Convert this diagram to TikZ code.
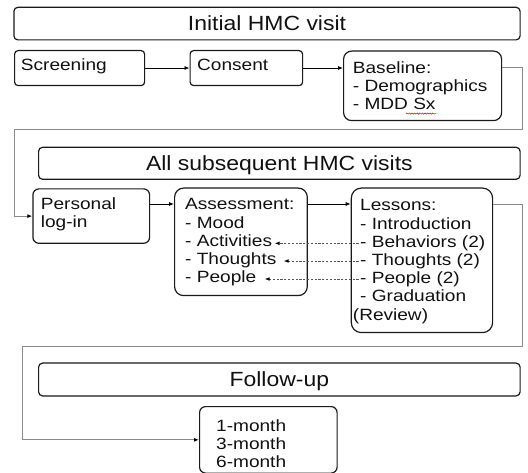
\documentclass[tikz,border=0pt]{standalone}
\usepackage{fontspec}
\newfontfamily\bodyfont{Liberation Sans}[FakeStretch=1.17]
\newfontfamily\headfont{Liberation Sans}[FakeStretch=1.12]
\usetikzlibrary{arrows.meta,calc,decorations.pathmorphing}
\definecolor{boxline}{HTML}{1A1A1A}
\definecolor{loopline}{HTML}{8A8A8A}
\definecolor{dashline}{HTML}{555555}
\definecolor{txtcol}{HTML}{111111}
\begin{document}
\begin{tikzpicture}[x=1pt,y=-1pt,
  box/.style={draw=boxline, line width=1.2pt, inner sep=0pt, rectangle, anchor=north west},
  txt/.style={font=\bodyfont\fontsize{16.3}{18.2}\selectfont, text=txtcol, inner sep=0pt, anchor=base west},
  head/.style={font=\headfont\fontsize{20.5}{24}\selectfont, text=txtcol, inner sep=0pt, anchor=base},
  arr/.style={draw=black, line width=0.8pt, -{Latex[length=5pt,width=4pt]}},
  gline/.style={draw=loopline, line width=1pt, -{Latex[length=5pt,width=4pt,color=black]}},
  darr/.style={draw=dashline, line width=0.6pt, dash pattern=on 2.2pt off 1.6pt, -{Latex[length=4.5pt,width=3.6pt,color=black]}}
]
\useasboundingbox (0,0) rectangle (528,473);
\fill[white] (0,0) rectangle (528,473);

% boxes
\node[box, rounded corners=4pt, minimum width=506.2pt, minimum height=32.6pt] (title) at (13.3,6.7) {};
\node[box, rounded corners=3.5pt, minimum width=130pt, minimum height=35pt] (screen) at (14,50) {};
\node[box, rounded corners=3.5pt, minimum width=112.5pt, minimum height=35pt] (consent) at (189.5,50) {};
\node[box, rounded corners=8pt, minimum width=158pt, minimum height=69.5pt] (baseline) at (343,50.5) {};
\node[box, rounded corners=4pt, minimum width=481.5pt, minimum height=32pt] (subseq) at (38,146.7) {};
\node[box, rounded corners=6pt, minimum width=116.7pt, minimum height=54.4pt] (login) at (32.3,188.3) {};
\node[box, rounded corners=9pt, minimum width=132.7pt, minimum height=107.5pt] (assess) at (174,187.5) {};
\node[box, rounded corners=10pt, minimum width=141.3pt, minimum height=144.5pt] (lessons) at (350.7,187.5) {};
\node[box, rounded corners=4pt, minimum width=481.5pt, minimum height=32.8pt] (followup) at (38,362.5) {};
\node[box, rounded corners=6pt, minimum width=137.5pt, minimum height=66.5pt] (months) at (199,406) {};

% headings
\node[head] (tTitle) at ($(title.center)+(0,7.4)$) {Initial HMC visit};
\node[head] (tSub) at ($(subseq.center)+(0,7.2)$) {All subsequent HMC visits};
\node[head] (tFol) at ($(followup.center)+(0,7.2)$) {Follow-up};

% texts
\node[txt] (tScr) at (20.7,70.7) {Screening};
\node[txt] (tCon) at (197,70.7) {Consent};
\node[txt] (tBa1) at (352.7,73.3) {Baseline:};
\node[txt] (tBa2) at (352.7,91.5) {- Demographics};
\node[txt] (tBa3) at (352.7,109.7) {- MDD Sx};
\node[txt] (tLo1) at (40.7,209.3) {Personal};
\node[txt] (tLo2) at (40.7,227.3) {log-in};
\node[txt] (tAs1) at (185,210) {Assessment:};
\node[txt] (tAs2) at (185,228.2) {- Mood};
\node[txt] (tAs3) at (185,246.4) {- Activities};
\node[txt] (tAs4) at (185,264.6) {- Thoughts};
\node[txt] (tAs5) at (185,282.8) {- People};
\node[txt] (tLe1) at (360,211) {Lessons:};
\node[txt] (tLe2) at (360,229.2) {- Introduction};
\node[txt] (tLe3) at (360,247.4) {- Behaviors (2)};
\node[txt] (tLe4) at (360,265.6) {- Thoughts (2)};
\node[txt] (tLe5) at (360,283.8) {- People (2)};
\node[txt] (tLe6) at (360,302) {- Graduation};
\node[txt] (tLe7) at (352.7,320.2) {(Review)};
\node[txt] (tMo1) at (216,431) {1-month};
\node[txt] (tMo2) at (216,449.2) {3-month};
\node[txt] (tMo3) at (216,467.4) {6-month};

% spell-check squiggle under "Sx"
\draw[red!85!black, line width=0.5pt, decorate, decoration={snake, amplitude=0.6pt, segment length=2.6pt}] (406,113.6) -- (436,113.6);

% row arrows
\coordinate (r1) at (0,68);
\coordinate (r2) at (0,204);
\draw[arr] (screen.east |- r1) -- (consent.west |- r1);
\draw[arr] (consent.east |- r1) -- (baseline.west |- r1);
\draw[arr] (login.east |- r2) -- (assess.west |- r2);
\draw[arr] (assess.east |- r2) -- (lessons.west |- r2);

% loop connectors
\coordinate (b1) at (522.7,68);
\coordinate (b2) at (522.7,130);
\coordinate (b3) at (14,130);
\draw[gline] (baseline.east |- b1) -- (b1) -- (b2) -- (b3) |- (login.west);
\coordinate (c1) at (522.7,205);
\coordinate (c2) at (522.7,346.7);
\coordinate (c3) at (22.7,346.7);
\draw[gline] (lessons.east |- c1) -- (c1) -- (c2) -- (c3) |- (months.west);

% dashed links lessons -> assessment
\coordinate (d1s) at (358.5,243.3);
\coordinate (d1e) at (275,243.3);
\coordinate (d2s) at (358.5,261);
\coordinate (d2e) at (284,261);
\coordinate (d3s) at (358.5,279);
\coordinate (d3e) at (265,279);
\draw[darr] (d1s) -- (d1e);
\draw[darr] (d2s) -- (d2e);
\draw[darr] (d3s) -- (d3e);
\end{tikzpicture}
\end{document}
